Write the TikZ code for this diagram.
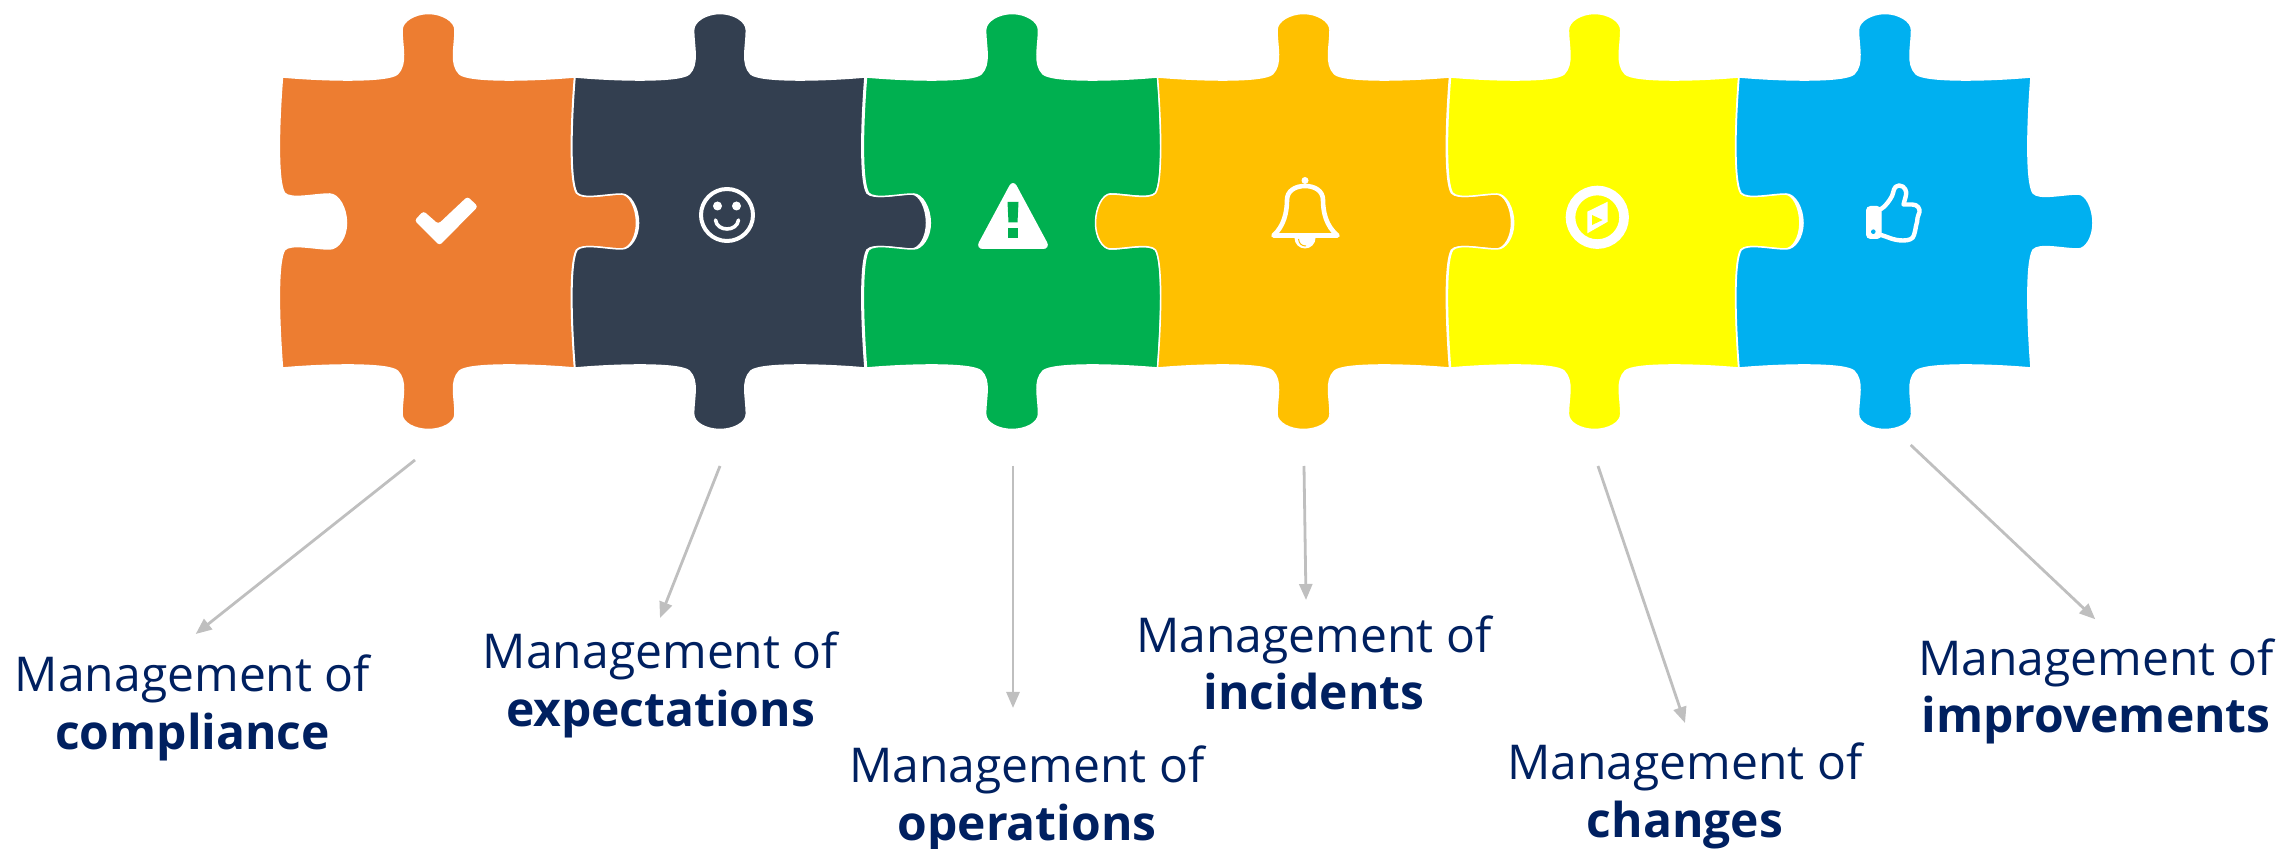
\documentclass[tikz,border=0pt]{standalone}
\usepackage{xcolor}
\usepackage{fontspec}
\setmainfont{Open Sans}
\usetikzlibrary{arrows.meta}

\definecolor{piecea}{HTML}{ED7D31}
\definecolor{pieceb}{HTML}{333F50}
\definecolor{piecec}{HTML}{00B050}
\definecolor{pieced}{HTML}{FFC000}
\definecolor{piecee}{HTML}{FFFF00}
\definecolor{piecef}{HTML}{00B0F0}
\definecolor{labelblue}{HTML}{002060}

\tikzset{
	piece/.style={draw=white, line width=0.75pt, line join=round},
	labeltext/.style={text=labelblue, align=center, inner sep=0pt, font=\fontsize{24}{28.8}\selectfont},
	arrowline/.style={draw=black!25, fill=black!25, line width=1.4pt, -{Triangle[length=8pt,width=6.5pt]}},
	iconline/.style={draw=white, line cap=round, line join=round},
}

% outline of one piece, in pixels from its top left corner
\newcommand{\topside}{(0,0) .. controls (45,4) and (106,5) .. (115,-3) .. controls (125,-13) and (119.5,-30) .. (119.5,-47) .. controls (119.5,-56) and (132.5,-63.5) .. (146,-63.5) .. controls (159.5,-63.5) and (172.5,-56) .. (172.5,-47) .. controls (172.5,-30) and (167,-13) .. (177,-3) .. controls (186,5) and (247,4) .. (292,0)}
\newcommand{\rightout}{.. controls (288,50) and (287,105) .. (294,116) .. controls (300,123) and (324,117) .. (339,117) .. controls (347,117) and (354,131) .. (354,146) .. controls (354,160) and (347,172) .. (339,172) .. controls (324,172) and (300,166) .. (294,173) .. controls (287,185) and (288,240) .. (292,291)}
\newcommand{\rightin}{.. controls (296,50) and (297,105) .. (290,116) .. controls (284,123) and (260,117) .. (245,117) .. controls (237,117) and (230,131) .. (230,146) .. controls (230,160) and (237,172) .. (245,172) .. controls (260,172) and (284,166) .. (290,173) .. controls (297,185) and (296,240) .. (292,291)}
\newcommand{\bottomside}{.. controls (247,287) and (186,286) .. (177,294) .. controls (167,304) and (172.5,320) .. (172.5,337) .. controls (172.5,346) and (159.5,352.5) .. (146,352.5) .. controls (132.5,352.5) and (119.5,346) .. (119.5,337) .. controls (119.5,320) and (125,304) .. (115,294) .. controls (106,286) and (45,287) .. (0,291)}
\newcommand{\leftin}{.. controls (-4,240) and (-5,185) .. (2,173) .. controls (8,166) and (32,172) .. (47,172) .. controls (56,172) and (64,160) .. (64,146) .. controls (64,131) and (56,117) .. (47,117) .. controls (32,117) and (8,123) .. (2,116) .. controls (-5,105) and (-4,50) .. (0,0)}
\newcommand{\leftout}{.. controls (4,240) and (5,185) .. (-2,173) .. controls (-8,166) and (-32,172) .. (-47,172) .. controls (-55,172) and (-62,160) .. (-62,146) .. controls (-62,131) and (-55,117) .. (-47,117) .. controls (-32,117) and (-8,123) .. (-2,116) .. controls (5,105) and (4,50) .. (0,0)}

\begin{document}
\begin{tikzpicture}[x=0.5pt, y=-0.5pt]
	\useasboundingbox (0,0) rectangle (2282,849);

	% pieces
	\begin{scope}[shift={(282.5,77)}]
		\path[piece, fill=piecea] \topside \rightout \bottomside \leftin -- cycle;
	\end{scope}
	\begin{scope}[shift={(575,77)}, xscale=0.993]
		\path[piece, fill=pieceb] \topside \rightout \bottomside \leftin -- cycle;
	\end{scope}
	\begin{scope}[shift={(866.5,77)}, xscale=0.997]
		\path[piece, fill=piecec] \topside \rightin \bottomside \leftin -- cycle;
	\end{scope}
	\begin{scope}[shift={(1157.5,77)}]
		\path[piece, fill=pieced] \topside \rightout \bottomside \leftout -- cycle;
	\end{scope}
	\begin{scope}[shift={(1450.5,77)}, xscale=0.987]
		\path[piece, fill=piecee] \topside \rightout \bottomside \leftin -- cycle;
	\end{scope}
	\begin{scope}[shift={(1739,77)}]
		\path[piece, fill=piecef] \topside \rightout \bottomside \leftin -- cycle;
	\end{scope}

	% check mark
	\fill[white, rounded corners=1.5pt] (414.5,220.5) -- (423.5,211) -- (438.3,224) -- (467.5,196.5) -- (478,206.5) -- (439.5,245.5) -- cycle;

	% smiley
	\draw[iconline, line width=2pt] (727,215) circle [radius=26];
	\fill[white] (717.5,206) circle [radius=4.5];
	\fill[white] (736.5,206) circle [radius=4.5];
	\draw[iconline, line width=1.8pt] (715.5,220) .. controls (717,232) and (737,232) .. (738.5,220);

	% warning sign
	\path[fill=white, draw=white, line width=1pt, rounded corners=3pt] (1013,181) -- (1049,248) -- (977,248) -- cycle;
	\fill[piecec] (1007.5,202) -- (1018.5,202) -- (1017.5,222.5) -- (1008.5,222.5) -- cycle;
	\fill[piecec] (1008,228) rectangle (1018,238);

	% bell
	\fill[white] (1305,180.5) circle [radius=3.5];
	\draw[iconline, line width=2.3pt] (1273.5,235.5) .. controls (1284,226) and (1287,212) .. (1287,200) .. controls (1287,191) and (1295,186) .. (1305,186) .. controls (1315,186) and (1323,191) .. (1323,200) .. controls (1323,212) and (1326,226) .. (1337.5,235.5) -- cycle;
	\fill[white] (1294.5,238) arc [start angle=180, end angle=0, radius=10.5] -- cycle;
	\draw[pieced, line width=0.5pt] (1298.5,239) .. controls (1299,244) and (1302,246) .. (1306,246);

	% compass
	\draw[iconline, line width=4.8pt] (1597.3,217.3) circle [radius=26.8];
	\fill[white] (1607.7,201.7) -- (1607.7,221.7) -- (1587.3,233.3) -- (1587.3,211.7) -- cycle;
	\fill[piecee] (1592,215) -- (1602.7,220) -- (1592,225) -- cycle;

	% thumb
	\path[fill=white, draw=white, line width=0.5pt, rounded corners=2pt] (1866.5,206.5) -- (1881,206.5) -- (1881,238.5) -- (1866.5,238.5) -- cycle;
	\fill[piecef] (1873.3,231.7) circle [radius=2.3];
	\draw[iconline, line width=2.2pt] (1881,209) .. controls (1885,207) and (1890,200) .. (1892,196) .. controls (1894,192) and (1893,186) .. (1899,185.5) .. controls (1905,185.5) and (1907,192) .. (1906,195) .. controls (1905.5,198) and (1904,202) .. (1903.5,204.5) -- (1912,204.5) .. controls (1918,204.5) and (1920,209) .. (1919.5,212) .. controls (1919,215) and (1917.5,216) .. (1917.5,218) .. controls (1917.5,220) and (1917,223) .. (1916,226) .. controls (1915.5,229) and (1915,232) .. (1914,235) .. controls (1913,239) and (1909,240.5) .. (1903,240.5) .. controls (1893,240.5) and (1887,236.5) .. (1881,235);

	% labels
	\node[labeltext] (labelcompliance) at (192.5,708) {Management of\\\textbf{compliance}};
	\node[labeltext] (labelexpectations) at (660.5,685) {Management of\\\textbf{expectations}};
	\node[labeltext] (labeloperations) at (1027,799) {Management of\\\textbf{operations}};
	\node[labeltext] (labelincidents) at (1314,663) {Management of\\\textbf{incidents}};
	\node[labeltext] (labelchanges) at (1685,796) {Management of\\\textbf{changes}};
	\node[labeltext] (labelimprovements) at (2096,691.5) {Management of\\\textbf{improvements}};

	% arrow ends
	\coordinate (startcompliance) at (415,460);
	\coordinate (startexpectations) at (720,466);
	\coordinate (startoperations) at (1013,466);
	\coordinate (startincidents) at (1304,466);
	\coordinate (startchanges) at (1598,466);
	\coordinate (startimprovements) at (1910.7,445);

	\coordinate (endcompliance) at (195.7,634);
	\coordinate (endexpectations) at (660,618);
	\coordinate (endoperations) at (1013,708);
	\coordinate (endincidents) at (1306,600);
	\coordinate (endchanges) at (1685,723);
	\coordinate (endimprovements) at (2095.3,619.3);

	\path
		(startcompliance) edge[arrowline] (endcompliance)
		(startexpectations) edge[arrowline] (endexpectations)
		(startoperations) edge[arrowline] (endoperations)
		(startincidents) edge[arrowline] (endincidents)
		(startchanges) edge[arrowline] (endchanges)
		(startimprovements) edge[arrowline] (endimprovements)
	;
\end{tikzpicture}
\end{document}
